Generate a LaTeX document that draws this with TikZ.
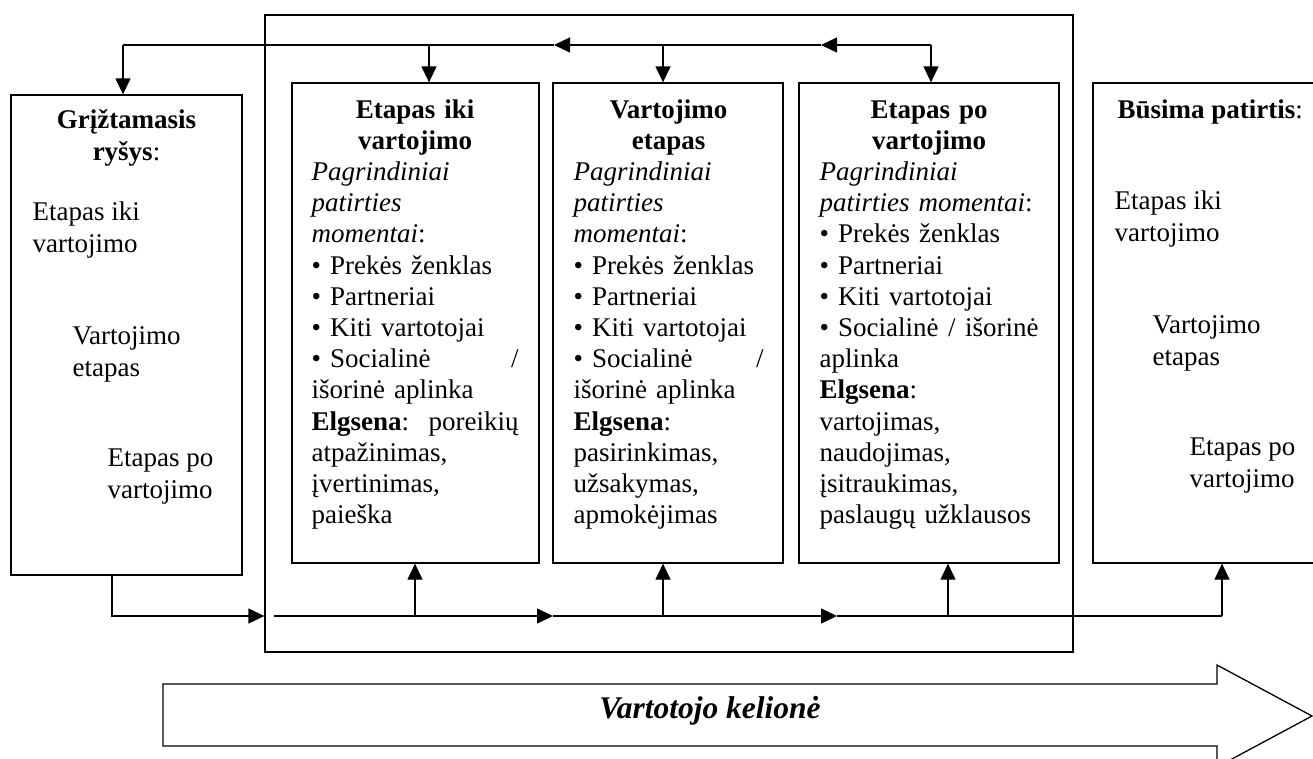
\documentclass[tikz,border=0pt]{standalone}
\usepackage{fontspec}
\setmainfont{Liberation Serif}
\usetikzlibrary{arrows.meta}
\begin{document}
\begin{tikzpicture}[x=1pt,y=-1pt,line width=1.3pt,
    box/.style={draw,rectangle,minimum width=#1,minimum height=480pt,inner sep=0pt},
    flow/.style={-{Triangle[length=16pt,width=15pt]}},
    txt/.style={anchor=base west,align=left,inner sep=0pt,font=\fontsize{27}{31.2}\selectfont}]
                \useasboundingbox (0,0) rectangle (1313,758);
                \node [draw,minimum width=808pt,minimum height=637pt] (stages) at (669,333.5) {};
                \node [box=231pt] (feedback) at (126.5,335) {};
                \node [box=247pt] (pre) at (415.5,323) {};
                \node [box=230pt] (use) at (668,323) {};
                \node [box=260pt] (post) at (929,323) {};
                \node [box=247pt] (future) at (1216.5,323) {};
                % tekstai (bazine linija - paskutine eilute)
                \node [txt,anchor=base,align=center] (fbhead) at (126.5,160) {\textbf{Grįžtamasis}\\\textbf{ryšys}:};
                \node [txt] (fbpre) at (32,252) {Etapas iki\\vartojimo};
                \node [txt] (fbuse) at (72,376) {Vartojimo\\etapas};
                \node [txt] (fbpost) at (107,498) {Etapas po\\vartojimo};
                \node [txt,text width=207pt] (pretext) at (311,118) {\makebox[\linewidth]{\bfseries Etapas iki}\\
                    \makebox[\linewidth]{\bfseries vartojimo}\\
                    \textit{Pagrindiniai}\\ \textit{patirties}\\ \textit{momentai}:\\
                    • Prekės ženklas\\ • Partneriai\\ • Kiti vartotojai\\
                    • Socialinė \hfill /\\ išorinė aplinka\\
                    \textbf{Elgsena}: \hfill poreikių\\ atpažinimas,\\ įvertinimas,\\ paieška};
                \node [txt,text width=190pt] (usetext) at (573,118) {\makebox[\linewidth]{\bfseries Vartojimo}\\
                    \makebox[\linewidth]{\bfseries etapas}\\
                    \textit{Pagrindiniai}\\ \textit{patirties}\\ \textit{momentai}:\\
                    • Prekės ženklas\\ • Partneriai\\ • Kiti vartotojai\\
                    • Socialinė \hfill /\\ išorinė aplinka\\
                    \textbf{Elgsena}:\\ pasirinkimas,\\ užsakymas,\\ apmokėjimas};
                \node [txt,text width=219pt] (posttext) at (819,118) {\makebox[\linewidth]{\bfseries Etapas po}\\
                    \makebox[\linewidth]{\bfseries vartojimo}\\
                    \textit{Pagrindiniai}\\ \textit{patirties momentai}:\\
                    • Prekės ženklas\\ • Partneriai\\ • Kiti vartotojai\\
                    • Socialinė \hfill / \hfill išorinė\\ aplinka\\
                    \textbf{Elgsena}:\\ vartojimas,\\ naudojimas,\\ įsitraukimas,\\ paslaugų užklausos};
                \node [txt] (futhead) at (1117,118) {\textbf{Būsima patirtis}:};
                \node [txt] (futpre) at (1114,241) {Etapas iki\\vartojimo};
                \node [txt] (futuse) at (1152,365) {Vartojimo\\etapas};
                \node [txt] (futpost) at (1189,487) {Etapas po\\vartojimo};
                % grįžtamasis ryšys virsuje
                \coordinate (t0) at (123,45);
                \coordinate (t1) at (429,45);
                \coordinate (t2) at (663,45);
                \coordinate (t3) at (931,45);
                \coordinate (m1) at (554,45);
                \coordinate (m2) at (821,45);
                \draw [flow] (t3) -- (m2);
                \draw [flow] (m2) -- (m1);
                \draw (m1) -- (t0);
                \draw [flow] (t0) -- (t0 |- feedback.north);
                \draw [flow] (t1) -- (t1 |- pre.north);
                \draw [flow] (t2) -- (t2 |- use.north);
                \draw [flow] (t3) -- (t3 |- post.north);
                % apatine linija
                \coordinate (b0) at (112,616);
                \coordinate (b1) at (274,616);
                \coordinate (u1) at (415,616);
                \coordinate (u2) at (663,616);
                \coordinate (u3) at (948,616);
                \coordinate (u4) at (1222,616);
                \coordinate (m3) at (553,616);
                \coordinate (m4) at (837,616);
                \draw [flow] (b0 |- feedback.south) -- (b0) -- (stages.west |- b0);
                \draw [flow] (b1) -- (m3);
                \draw [flow] (m3) -- (m4);
                \draw (m4) -- (u4);
                \draw [flow] (u1) -- (u1 |- pre.south);
                \draw [flow] (u2) -- (u2 |- use.south);
                \draw [flow] (u3) -- (u3 |- post.south);
                \draw [flow] (u4) -- (u4 |- future.south);
                % kelione
                \draw (163,684) -- (1217,684) -- (1217,665) -- (1312,716) -- (1217,767) -- (1217,746) -- (163,746) -- cycle;
                \node [anchor=base,inner sep=0pt,font=\fontsize{31.5}{36}\selectfont\bfseries\itshape] (trip) at (710,718) {Vartotojo kelionė};
\end{tikzpicture}
\end{document}
